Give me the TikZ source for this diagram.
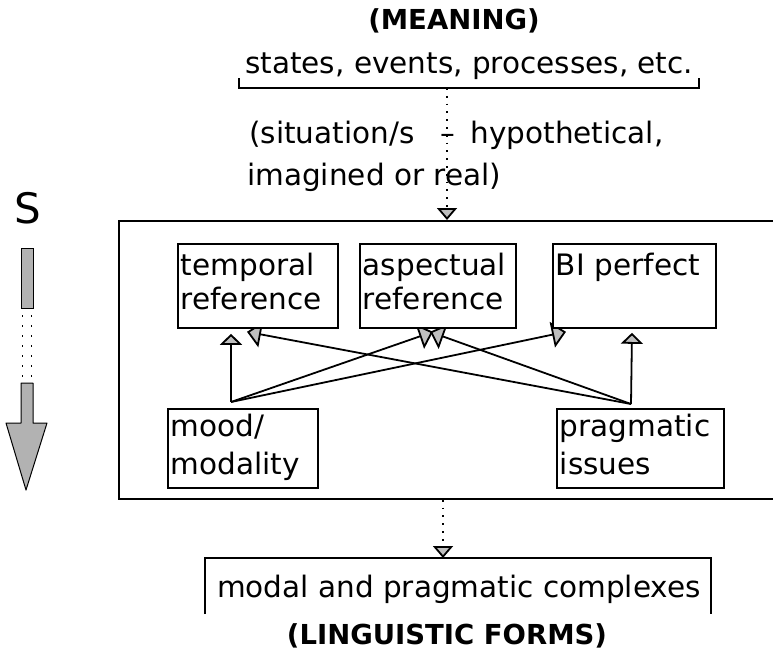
\documentclass[tikz,border=0pt]{standalone}
\usepackage{fontspec}
\setmainfont{DejaVu Sans}
\usetikzlibrary{arrows.meta,calc}
\pgfdeclarelayer{back}
\pgfsetlayers{back,main}
% text styles
\newcommand{\lbl}{\fontsize{29.5}{34}\selectfont}
\newcommand{\lblb}{\fontsize{29.5}{38}\selectfont}
\newcommand{\hdg}{\fontsize{27.5}{32}\selectfont\bfseries}
\newcommand{\bxs}{\rule[-9pt]{0pt}{32pt}}
\begin{document}
\begin{tikzpicture}[x=1pt,y=-1pt,
  ink/.style={line width=1.8pt},
  box/.style={draw, line width=1.8pt, fill=white, anchor=north west,
    inner xsep=3pt, inner ysep=0pt, align=left, font=\lbl},
  boxb/.style={box, font=\lblb},
  link/.style={line width=1.8pt,
    -{Triangle[width=22pt,length=11pt,fill=gray!50]}},
  biglink/.style={line width=1.8pt,
    -{Triangle[width=26pt,length=14pt,fill=gray!50]}},
  dotlink/.style={line width=1.8pt, dash pattern=on 1.8pt off 6pt,
    -{Triangle[width=20pt,length=12pt,fill=gray!50]}},
  txt/.style={anchor=base west, inner sep=0pt, font=\lbl},
  head/.style={anchor=base, inner sep=0pt, font=\hdg},
]
\useasboundingbox (0,0) rectangle (773,656);

% headings
\node[head] (meaning) at (454,29) {(MEANING)};
\node[head] (forms) at (447,644) {(LINGUISTIC FORMS)};

% upper bracket with situations
\node[txt] (states) at (245,73) {states, events, processes, etc.};
\draw[ink] ([xshift=-6pt,yshift=-5pt]states.base west)
  -- ([xshift=-6pt,yshift=-15pt]states.base west)
  -- ([xshift=6pt,yshift=-15pt]states.base east)
  -- ([xshift=6pt,yshift=-5pt]states.base east);
\coordinate (tb) at ($(states.base west)+(202,15)$);

\node[txt] (sit1) at (249,143) {(situation/s\hspace{0.9em}–\hspace{0.5em}hypothetical,};
\node[txt] (sit2) at (247,185) {imagined or real)};

% central frame
\node[draw, line width=1.8pt, anchor=north west, minimum width=662pt,
  minimum height=278pt, inner sep=0pt] (frame) at (118,220) {};

% inner boxes
\node[box, text width=154pt, minimum height=84pt] (temp) at (177,243)
  {\bxs temporal\\\bxs reference};
\node[box, text width=150pt, minimum height=84pt] (asp) at (359,243)
  {\bxs aspectual\\\bxs reference};
\node[box, text width=157pt, minimum height=84pt] (bi) at (552,243)
  {\bxs BI perfect\\\bxs};
\node[boxb, text width=144pt, minimum height=79pt] (mood) at (167,408)
  {\bxs mood/\\\bxs modality};
\node[boxb, text width=161pt, minimum height=79pt] (prag) at (556,408)
  {\bxs pragmatic\\\bxs issues};

% lower bracket
\node[txt] (cplx) at (217,597) {modal and pragmatic complexes};
\draw[ink] ([xshift=-12pt,yshift=-17pt]cplx.base west)
  -- ([xshift=-12pt,yshift=39pt]cplx.base west)
  -- ([xshift=10pt,yshift=39pt]cplx.base east)
  -- ([xshift=10pt,yshift=-17pt]cplx.base east);
\coordinate (bb) at ($(cplx.base west)+(226,-39)$);

% dotted flow arrows
\draw[dotlink] (tb) -- (tb |- frame.north);
\draw[dotlink] (bb |- frame.south) -- (bb);

% connectors inside the frame, behind the boxes
\coordinate (mA) at ($(mood.north west)+(64,-6)$);
\coordinate (pA) at ($(prag.north west)+(75,-4)$);
\begin{pgfonlayer}{back}
  \draw[link] (mA) -- ($(temp.south west)+(54,5)$);
  \draw[biglink] (mA) -- ($(asp.south west)+(74,3)$);
  \draw[biglink] (mA) -- ($(bi.south west)+(14,3)$);
  \draw[link] (pA) -- ($(bi.south west)+(80,4)$);
  \draw[biglink] (pA) -- ($(asp.south west)+(71,3)$);
  \draw[biglink] (pA) -- ($(temp.south west)+(70,3)$);
\end{pgfonlayer}

% S arrow on the left
\node[anchor=base, inner sep=0pt, font=\fontsize{42}{42}\selectfont] (S) at (28,223) {S};
\filldraw[fill=gray!60, line width=1pt] (21,248) rectangle (33,308);
\draw[line width=1.5pt, dash pattern=on 1.5pt off 8.5pt] (22.5,315) -- (22.5,379);
\draw[line width=1.5pt, dash pattern=on 1.5pt off 8.5pt] (31.5,315) -- (31.5,379);
\filldraw[fill=gray!60, line width=1pt, line join=round]
  (21,383) -- (33,383) -- (33,423) -- (47,423) -- (26,490) -- (6,423) -- (21,423) -- cycle;
\end{tikzpicture}
\end{document}
